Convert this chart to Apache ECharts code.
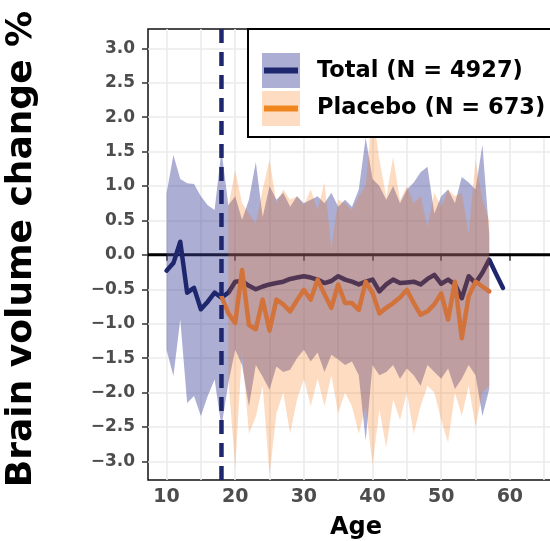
<!DOCTYPE html>
<html><head><meta charset="utf-8">
<script src="https://cdn.jsdelivr.net/npm/echarts@6/dist/echarts.min.js"></script>
<style>html,body{margin:0;padding:0;background:#fff}#c{width:550px;height:541px}</style>
</head><body><div id="c"></div>
<script>
// ---- data ----
const totalAges = [10,11,12,13,14,15,16,17,18,19,20,21,22,23,24,25,26,27,28,29,30,31,32,33,34,35,36,37,38,39,40,41,42,43,44,45,46,47,48,49,50,51,52,53,54,55,56,57,58,59];
const totalMean = [-0.23,-0.12,0.19,-0.55,-0.48,-0.79,-0.68,-0.55,-0.62,-0.55,
  -0.39,-0.38,-0.45,-0.50,-0.46,-0.43,-0.41,-0.39,-0.35,-0.33,
  -0.31,-0.33,-0.36,-0.41,-0.38,-0.31,-0.36,-0.39,-0.43,-0.39,
  -0.36,-0.53,-0.43,-0.36,-0.41,-0.40,-0.39,-0.43,-0.35,-0.29,
  -0.42,-0.36,-0.43,-0.63,-0.31,-0.41,-0.26,-0.07,-0.28,-0.48];
const totalUpper = [0.89,1.45,1.10,1.04,1.03,0.85,0.72,0.65,1.52,0.72,
  0.85,0.51,0.80,1.35,0.55,1.00,0.80,0.90,0.70,0.85,
  0.75,0.80,0.85,0.75,0.90,0.70,0.80,0.70,0.95,1.70,
  1.10,1.00,0.80,1.00,0.75,0.95,1.05,1.20,1.28,0.60,
  0.85,0.95,0.75,1.13,1.05,0.95,1.60,0.30,null,null];
const totalLower = [-1.38,-1.76,-0.94,-2.15,-2.05,-2.34,-2.05,-1.81,-2.50,-1.86,
  -1.38,-1.60,-2.20,-1.60,-1.77,-1.96,-1.62,-1.70,-1.67,-1.50,
  -1.38,-1.55,-1.42,-1.70,-1.45,-1.52,-1.60,-1.55,-1.75,-2.70,
  -1.60,-1.75,-1.70,-1.60,-1.80,-1.65,-1.75,-1.90,-1.60,-1.70,
  -1.80,-1.65,-1.95,-1.80,-1.60,-1.75,-2.34,-1.95,null,null];

const placeboAges = [18,19,20,21,22,23,24,25,26,27,28,29,30,31,32,33,34,35,36,37,38,39,40,41,42,43,44,45,46,47,48,49,50,51,52,53,54,55,56,57];
const placeboMean = [-0.60,-0.85,-0.99,-0.22,-1.02,-1.08,-0.65,-1.10,-0.65,-0.72,-0.82,-0.66,
  -0.51,-0.65,-0.36,-0.57,-0.77,-0.43,-0.70,-0.70,-0.80,-0.39,
  -0.55,-0.85,-0.77,-0.70,-0.62,-0.51,-0.70,-0.87,-0.82,-0.72,
  -0.56,-0.94,-0.39,-1.21,-0.60,-0.39,-0.46,-0.53];
const placeboUpper = [null,0.70,1.23,0.75,0.60,0.45,0.95,1.38,0.75,0.95,0.80,0.85,
  0.72,0.95,0.65,1.05,0.10,0.80,0.75,0.65,0.85,1.00,
  2.10,1.38,0.84,1.42,0.79,1.00,0.75,0.85,0.40,0.90,
  0.70,0.95,0.85,0.90,0.30,1.38,0.80,0.50];
const placeboLower = [null,-1.80,-3.10,-1.40,-2.60,-2.35,-1.90,-3.20,-2.30,-2.00,-2.60,-2.10,
  -1.80,-2.20,-1.80,-2.20,-1.75,-2.30,-2.00,-2.20,-2.60,-2.20,
  -3.05,-2.25,-2.80,-2.10,-2.40,-2.00,-2.60,-2.20,-1.90,-2.00,
  -2.40,-2.73,-2.00,-2.34,-1.90,-2.50,-2.00,-1.90];

const xTicks = [10,20,30,40,50,60];
const xGridLines = [10,15,20,25,30,35,40,45,50,55,60,65];
const yTicks = [-3,-2.5,-2,-1.5,-1,-0.5,0,0.5,1,1.5,2,2.5,3];
const cutoffAge = 18;
const legendLabels = ['Total (N = 4927)','Placebo (N = 673)'];

// ---- styles ----
const X_MIN = 7.3, X_MAX = 68, Y_MIN = -3.27, Y_MAX = 3.28;
const NAVY = '#1e266e';
const FONT = 'DejaVu Sans';
const TOTAL_FILL = 'rgba(62,68,155,0.43)';
const PLACEBO_FILL = 'rgba(245,110,0,0.24)';

function ribbon(name, ages, lower, upper, fill, z) {
  const rows = ages.map((a,i)=>[a, lower[i], upper[i]]).filter(r => r[1]!=null && r[2]!=null);
  return {
    type:'custom', name, z, clip:true, silent:true,
    data: rows, encode:{x:0, y:[1,2]},
    renderItem(params, api) {
      if (params.dataIndex !== 0) return null;
      const top = [], bot = [];
      rows.forEach(r => { top.push(api.coord([r[0], r[2]])); bot.push(api.coord([r[0], r[1]])); });
      return {type:'polygon', shape:{points: top.concat(bot.reverse())}, style:{fill: fill}};
    }
  };
}

const chart = echarts.init(document.getElementById('c'), null, {renderer:'canvas'});
const tickStyle = {color:'#333', width:1.5};
chart.setOption({
  animation:false,
  backgroundColor:'#fff',
  grid:{left:148, top:29, width:416.8, height:451, outerBoundsMode:'none', containLabel:false,
        show:true, borderColor:'#111', borderWidth:1.5, backgroundColor:'transparent'},
  xAxis:[{
    type:'value', min:X_MIN, max:X_MAX,
    axisLine:{show:false},
    axisTick:{show:true, customValues:xTicks, length:6, lineStyle:tickStyle},
    axisLabel:{customValues:xTicks, fontSize:19, fontWeight:'bold', fontFamily:FONT, color:'#4d4d4d', margin:8},
    splitLine:{show:false}
  },{
    type:'value', min:X_MIN, max:X_MAX, position:'bottom',
    axisLine:{show:false},
    axisTick:{show:false, customValues:xGridLines},
    axisLabel:{show:false},
    splitLine:{show:true, lineStyle:{color:'#ebebeb', width:1.6}}
  }],
  yAxis:{
    type:'value', min:Y_MIN, max:Y_MAX,
    axisLine:{show:false},
    axisTick:{show:true, customValues:yTicks, length:6, lineStyle:tickStyle},
    axisLabel:{customValues:yTicks, fontSize:17, fontWeight:'bold', fontFamily:FONT, color:'#4d4d4d', margin:13,
      formatter: v => v.toFixed(1).replace('-', '\u2212')},
    splitLine:{show:true, lineStyle:{color:'#ebebeb', width:1.6}}
  },
  series:[
    {type:'line', name:'zero', z:1, silent:true, symbol:'none', data:[[X_MIN,0],[X_MAX,0]],
     lineStyle:{color:'#000', width:3}},
    ribbon('Total band', totalAges, totalLower, totalUpper, TOTAL_FILL, 2),
    {type:'line', name:legendLabels[0], z:3, silent:true, symbol:'none',
     data: totalAges.map((a,i)=>[a, totalMean[i]]),
     lineStyle:{color:NAVY, width:4.5, join:'round', cap:'round'}},
    ribbon('Placebo band', placeboAges, placeboLower, placeboUpper, PLACEBO_FILL, 4),
    {type:'line', name:legendLabels[1], z:5, silent:true, symbol:'none',
     data: placeboAges.map((a,i)=>[a, placeboMean[i]]),
     lineStyle:{color:'#d2733c', width:4.5, join:'round', cap:'round'}},
    {type:'line', name:'cutoff', z:6, silent:true, symbol:'none', data:[[cutoffAge,Y_MIN],[cutoffAge,Y_MAX]],
     lineStyle:{color:NAVY, width:4.5, type:[14,9]}}
  ],
  graphic:[
    {type:'text', x:356, y:528, z:100, style:{text:'Age', font:'bold 24px "DejaVu Sans"', fill:'#000', align:'center', verticalAlign:'middle'}},
    {type:'text', x:22, y:249, rotation:Math.PI/2, z:100, style:{text:'Brain volume change %', font:'bold 36px "DejaVu Sans"', fill:'#000', align:'center', verticalAlign:'middle'}},
    {type:'rect', z:100, shape:{x:248, y:29, width:330, height:108}, style:{fill:'#fff', stroke:'#000', lineWidth:2}},
    {type:'rect', z:101, shape:{x:262, y:53, width:38, height:35}, style:{fill:TOTAL_FILL}},
    {type:'line', z:102, shape:{x1:264, y1:70.5, x2:298, y2:70.5}, style:{stroke:NAVY, lineWidth:6}},
    {type:'rect', z:101, shape:{x:262, y:91, width:38, height:35}, style:{fill:PLACEBO_FILL}},
    {type:'line', z:102, shape:{x1:264, y1:108.5, x2:298, y2:108.5}, style:{stroke:'#f0871e', lineWidth:6}},
    {type:'text', z:102, x:317, y:71, style:{text:legendLabels[0], font:'bold 22.5px "DejaVu Sans"', fill:'#000', align:'left', verticalAlign:'middle'}},
    {type:'text', z:102, x:317, y:108.5, style:{text:legendLabels[1], font:'bold 22.5px "DejaVu Sans"', fill:'#000', align:'left', verticalAlign:'middle'}}
  ]
});
</script></body></html>
